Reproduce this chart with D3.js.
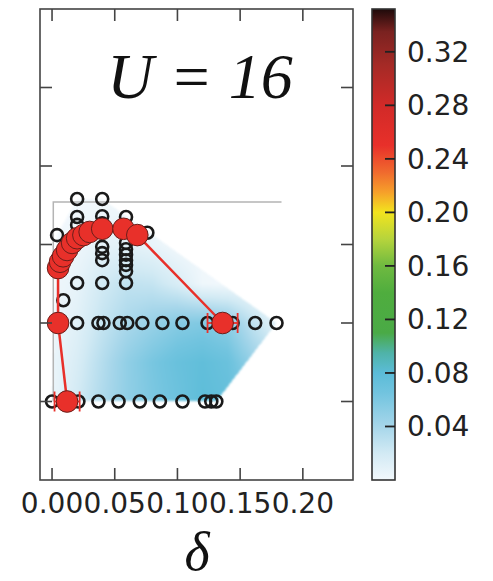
<!DOCTYPE html>
<html>
<head>
<meta charset="utf-8">
<script src="https://cdn.jsdelivr.net/npm/d3@7"></script>
<style>
  html, body { margin: 0; padding: 0; background: #fff; }
  svg { display: block; }
</style>
</head>
<body>
<svg id="chart" width="493" height="581"></svg>
<script>
// ---- data ----
const xTicks = [0.00, 0.05, 0.10, 0.15, 0.20];
const yTicks = [1, 2, 3, 4, 5];
const cbTicks = [0.04, 0.08, 0.12, 0.16, 0.20, 0.24, 0.28, 0.32];

// sampled configurations (open circles)
const sampleX = [
  0.000, 0.021, 0.037, 0.053, 0.070, 0.086, 0.104, 0.122, 0.127, 0.131,
  0.020, 0.037, 0.041, 0.054, 0.060, 0.072, 0.088, 0.104, 0.124, 0.144, 0.162, 0.179,
  0.004, 0.009,
  0.020, 0.020, 0.020, 0.020,
  0.040, 0.040, 0.040, 0.040, 0.040, 0.040, 0.040,
  0.059, 0.059, 0.059, 0.059, 0.059, 0.059, 0.059, 0.059,
  0.076
];
const sampleY = [
  1, 1, 1, 1, 1, 1, 1, 1, 1, 1,
  2, 2, 2, 2, 2, 2, 2, 2, 2, 2, 2, 2,
  3.12, 2.29,
  3.58, 3.35, 3.25, 2.51,
  3.58, 3.36, 3.27, 2.97, 2.89, 2.80, 2.51,
  3.35, 3.02, 2.94, 2.87, 2.80, 2.74, 2.66, 2.51,
  3.15
];

// boundary curve (red markers, in path order) and horizontal error
const edgeX = [0.012, 0.0048, 0.0048, 0.0064, 0.0088, 0.012, 0.016, 0.020, 0.025, 0.030, 0.040, 0.057, 0.068, 0.136];
const edgeY = [1.0, 2.0, 2.70, 2.78, 2.85, 2.93, 3.02, 3.08, 3.12, 3.16, 3.20, 3.20, 3.12, 2.0];
const edgeErr = [0.010, 0, 0, 0, 0, 0, 0, 0, 0, 0, 0, 0, 0, 0.012];

// guide line (light gray bracket)
const guideX = [0.183, 0.001, 0.001];
const guideY = [3.54, 3.54, 1.0];

// intensity field on a coarse grid (rows follow heatY)
const heatX = [0.00, 0.02, 0.04, 0.06, 0.08, 0.10, 0.12, 0.14, 0.16, 0.18];
const heatY = [1.0, 1.5, 2.0, 2.5, 3.0, 3.6];
const heatZ = [
  [0.004, 0.020, 0.036, 0.050, 0.060, 0.068, 0.078, 0.074, 0.064, 0.054],
  [0.004, 0.016, 0.033, 0.050, 0.062, 0.071, 0.076, 0.070, 0.048, 0.030],
  [0.003, 0.011, 0.026, 0.038, 0.047, 0.055, 0.058, 0.052, 0.028, 0.010],
  [0.002, 0.007, 0.020, 0.028, 0.026, 0.016, 0.002, 0.000, 0.000, 0.000],
  [0.000, 0.003, 0.008, 0.010, 0.006, 0.000, 0.000, 0.000, 0.000, 0.000],
  [0.000, 0.000, 0.000, 0.000, 0.000, 0.000, 0.000, 0.000, 0.000, 0.000]
];

// colormap stops
const cmapStops = [0, 0.02, 0.04, 0.065, 0.08, 0.095, 0.11, 0.14, 0.16, 0.18, 0.20, 0.215, 0.23, 0.25, 0.28, 0.31, 0.335, 0.352];
const cmapColors = ['#f2f8fc', '#d2eaf4', '#a6d6ea', '#72c4df', '#5bbcd8', '#4fb3a8', '#4aaa46', '#4fad3e', '#6fba40', '#b6d43c', '#f2e41e', '#f6a02a', '#f06a2e', '#e8302a', '#d12a28', '#a52a26', '#7a2220', '#1e0a0a'];

// ---- layout ----
const plot = { left: 40, top: 9, right: 353, bottom: 480 };
const cb = { left: 372, right: 395, top: 9, bottom: 480 };

const svg = d3.select('#chart');
const x = d3.scaleLinear().domain([-0.0096, 0.24]).range([plot.left, plot.right]);
const y = d3.scaleLinear().domain([0, 6]).range([plot.bottom, plot.top]);
const color = d3.scaleLinear().domain(cmapStops).range(cmapColors).interpolate(d3.interpolateRgb).clamp(true);

// ---- intensity field, rendered through the scales and clipped to the sampled hull ----
const samplePts = sampleX.map((d, i) => [x(d), y(sampleY[i])])
  .concat(edgeX.map((d, i) => [x(d), y(edgeY[i])]));
const hull = d3.polygonHull(samplePts);

function field(dx, dy) {
  if (dy < heatY[0] || dy > heatY[heatY.length - 1]) return null;
  const cx = Math.max(heatX[0], Math.min(heatX[heatX.length - 1], dx));
  let i = d3.bisectRight(heatX, cx) - 1; i = Math.max(0, Math.min(heatX.length - 2, i));
  let j = d3.bisectRight(heatY, dy) - 1; j = Math.max(0, Math.min(heatY.length - 2, j));
  const tx = (cx - heatX[i]) / (heatX[i + 1] - heatX[i]);
  const ty = (dy - heatY[j]) / (heatY[j + 1] - heatY[j]);
  const a = heatZ[j][i], b = heatZ[j][i + 1], c = heatZ[j + 1][i], d = heatZ[j + 1][i + 1];
  return (a * (1 - tx) + b * tx) * (1 - ty) + (c * (1 - tx) + d * tx) * ty;
}

const W = plot.right - plot.left, H = plot.bottom - plot.top;
const canvas = document.createElement('canvas');
canvas.width = W; canvas.height = H;
const ctx = canvas.getContext('2d');
const img = ctx.createImageData(W, H);
for (let py = 0; py < H; py++) {
  for (let px = 0; px < W; px++) {
    const sx = plot.left + px + 0.5, sy = plot.top + py + 0.5;
    if (!d3.polygonContains(hull, [sx, sy])) continue;
    const v = field(x.invert(sx), y.invert(sy));
    if (v === null) continue;
    const c = d3.rgb(color(v));
    const k = (py * W + px) * 4;
    img.data[k] = c.r; img.data[k + 1] = c.g; img.data[k + 2] = c.b; img.data[k + 3] = 255;
  }
}
ctx.putImageData(img, 0, 0);
const soft = document.createElement('canvas');
soft.width = W; soft.height = H;
const sctx = soft.getContext('2d');
sctx.filter = 'blur(1px)';
sctx.drawImage(canvas, 0, 0);

svg.append('image')
  .attr('x', plot.left).attr('y', plot.top)
  .attr('width', W).attr('height', H)
  .attr('href', soft.toDataURL());

// ---- guide line ----
svg.append('path')
  .attr('d', d3.line()(guideX.map((d, i) => [x(d), y(guideY[i])])))
  .attr('fill', 'none').attr('stroke', '#b4b4b4').attr('stroke-width', 1.5);

// ---- sampled points ----
svg.append('g').selectAll('circle')
  .data(sampleX.map((d, i) => [d, sampleY[i]]))
  .join('circle')
  .attr('cx', d => x(d[0])).attr('cy', d => y(d[1]))
  .attr('r', 6)
  .attr('fill', 'none').attr('stroke', '#1a1a1a').attr('stroke-width', 2.6);

// ---- boundary curve ----
const edge = edgeX.map((d, i) => ({ x: d, y: edgeY[i], e: edgeErr[i] }));
svg.append('path')
  .attr('d', d3.line().x(d => x(d.x)).y(d => y(d.y))(edge))
  .attr('fill', 'none').attr('stroke', '#e8302a').attr('stroke-width', 2.5);

const eb = svg.append('g').attr('stroke', '#e8302a').attr('stroke-width', 1.8);
edge.filter(d => d.e > 0).forEach(d => {
  const cy = y(d.y);
  eb.append('line').attr('x1', x(d.x - d.e)).attr('x2', x(d.x + d.e)).attr('y1', cy).attr('y2', cy);
  [d.x - d.e, d.x + d.e].forEach(v => {
    eb.append('line').attr('x1', x(v)).attr('x2', x(v)).attr('y1', cy - 10).attr('y2', cy + 10);
  });
});

svg.append('g').selectAll('circle')
  .data(edge)
  .join('circle')
  .attr('cx', d => x(d.x)).attr('cy', d => y(d.y))
  .attr('r', 10.8)
  .attr('fill', '#e8302a').attr('stroke', '#6a1e1a').attr('stroke-width', 1);

// ---- frame and ticks ----
svg.append('rect')
  .attr('x', plot.left).attr('y', plot.top).attr('width', W).attr('height', H)
  .attr('fill', 'none').attr('stroke', '#444').attr('stroke-width', 1.6);

const tickLen = 12;
const tk = svg.append('g').attr('stroke', '#444').attr('stroke-width', 1.6);
xTicks.forEach(t => {
  tk.append('line').attr('x1', x(t)).attr('x2', x(t)).attr('y1', plot.bottom).attr('y2', plot.bottom - tickLen);
  tk.append('line').attr('x1', x(t)).attr('x2', x(t)).attr('y1', plot.top).attr('y2', plot.top + tickLen);
});
yTicks.forEach(t => {
  tk.append('line').attr('x1', plot.left).attr('x2', plot.left + tickLen).attr('y1', y(t)).attr('y2', y(t));
  tk.append('line').attr('x1', plot.right).attr('x2', plot.right - tickLen).attr('y1', y(t)).attr('y2', y(t));
});

svg.append('g').selectAll('text')
  .data(xTicks)
  .join('text')
  .attr('x', d => x(d)).attr('y', 513)
  .attr('text-anchor', 'middle')
  .attr('font-family', 'DejaVu Sans').attr('font-size', 28).attr('fill', '#222')
  .text(d3.format('.2f'));

// ---- titles ----
svg.append('text')
  .attr('x', 200).attr('y', 98)
  .attr('text-anchor', 'middle')
  .attr('font-family', 'Liberation Serif').attr('font-style', 'italic')
  .attr('font-size', 64).attr('fill', '#111')
  .text('U = 16');

svg.append('text')
  .attr('x', 197).attr('y', 570)
  .attr('text-anchor', 'middle')
  .attr('font-family', 'Liberation Serif').attr('font-style', 'italic')
  .attr('font-size', 54).attr('fill', '#111')
  .text('δ');

// ---- colorbar ----
const cbScale = d3.scaleLinear().domain([0, 0.352]).range([cb.bottom, cb.top]);
const grad = svg.append('defs').append('linearGradient')
  .attr('id', 'cbgrad').attr('x1', 0).attr('y1', 1).attr('x2', 0).attr('y2', 0);
cmapStops.forEach((s, i) => {
  grad.append('stop').attr('offset', s / 0.352).attr('stop-color', cmapColors[i]);
});
svg.append('rect')
  .attr('x', cb.left).attr('y', cb.top)
  .attr('width', cb.right - cb.left).attr('height', cb.bottom - cb.top)
  .attr('fill', 'url(#cbgrad)').attr('stroke', '#333').attr('stroke-width', 1.6);

const cbt = svg.append('g');
cbTicks.forEach(t => {
  cbt.append('line')
    .attr('x1', cb.right - 10).attr('x2', cb.right).attr('y1', cbScale(t)).attr('y2', cbScale(t))
    .attr('stroke', '#222').attr('stroke-width', 1.8);
  cbt.append('text')
    .attr('x', 407).attr('y', cbScale(t) + 10)
    .attr('font-family', 'DejaVu Sans').attr('font-size', 28).attr('fill', '#222')
    .text(d3.format('.2f')(t));
});
</script>
</body>
</html>
